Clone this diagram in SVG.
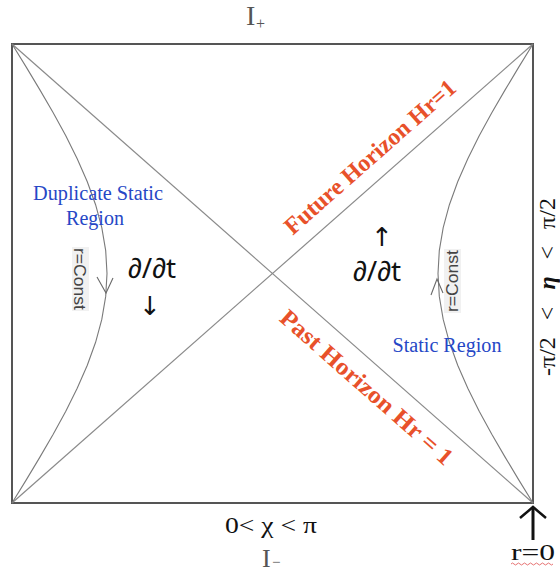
<svg xmlns="http://www.w3.org/2000/svg" width="560" height="580" viewBox="0 0 560 580">
<style>
.frame{fill:none;stroke:#555;stroke-width:2}
.diag{fill:none;stroke:#8a8a8a;stroke-width:1.2}
.curve{fill:none;stroke:#7a7a7a;stroke-width:1.1}
.chev{fill:none;stroke:#6a6a6a;stroke-width:1.1}
.blue{font-family:"Liberation Serif",serif;font-size:20px;fill:#2647c6}
.hor{font-family:"Liberation Serif",serif;font-size:24px;font-weight:bold;fill:#e8512a}
.rc{font-family:"Liberation Sans",sans-serif;font-size:17px;fill:#444}
.dt{font-family:"Noto Sans",sans-serif;font-size:28px;fill:#111}
.arr{font-family:"DejaVu Sans",sans-serif;font-size:26px;fill:#111}
.math{font-family:"Liberation Serif",serif;font-size:24px;fill:#111}
.big{font-family:"Liberation Serif",serif;fill:#555}
</style>
<rect width="560" height="580" fill="#fff"/>
<g id="connectors">
<rect class="frame" x="12" y="44" width="521" height="459"/>
<line class="diag" x1="12" y1="44" x2="533" y2="503"/>
<line class="diag" x1="12" y1="503" x2="533" y2="44"/>
<polyline class="curve" points="12,44 26.1,66.9 39.9,89.9 53.2,112.8 65.8,135.8 77.2,158.7 87.3,181.7 95.6,204.7 101.8,227.6 105.7,250.6 107,273.5 105.7,296.4 101.8,319.4 95.6,342.3 87.3,365.3 77.2,388.3 65.8,411.2 53.2,434.2 39.9,457.1 26.1,480.1 12,503"/>
<polyline class="curve" points="533,44 518.9,66.9 505.1,89.9 491.8,112.8 479.2,135.8 467.8,158.7 457.7,181.7 449.4,204.7 443.2,227.6 439.3,250.6 438,273.5 439.3,296.4 443.2,319.4 449.4,342.3 457.7,365.3 467.8,388.3 479.2,411.2 491.8,434.2 505.1,457.1 518.9,480.1 533,503"/>
<polyline class="chev" points="97,277 106,293 113,278"/>
<polyline class="chev" points="431,295 437,279 443,293"/>
<line x1="533" y1="540" x2="533" y2="508" stroke="#111" stroke-width="3"/>
<polyline points="520,518 533,507 546,518" fill="none" stroke="#111" stroke-width="2.5"/>
</g>
<g id="label-top">
<text class="big" x="246" y="25" font-size="28">I</text>
<text class="big" x="256" y="29" font-size="16">+</text>
</g>
<g id="label-bottom">
<text class="big" x="262" y="567" font-size="26" fill="#666">I</text>
<text class="big" x="272" y="567" font-size="15" fill="#666">−</text>
</g>
<g id="duplicate-static-region">
<text class="blue" x="98" y="200" text-anchor="middle" textLength="130" lengthAdjust="spacingAndGlyphs">Duplicate Static</text>
<text class="blue" x="95" y="225" text-anchor="middle">Region</text>
</g>
<g id="static-region">
<text class="blue" x="447" y="352" text-anchor="middle" textLength="109" lengthAdjust="spacingAndGlyphs">Static Region</text>
</g>
<g id="future-horizon">
<text class="hor" transform="translate(385.2,174.2) rotate(-41.38)" x="0" y="-15" text-anchor="middle" textLength="220" lengthAdjust="spacingAndGlyphs">Future Horizon Hr=1</text>
</g>
<g id="past-horizon">
<text class="hor" transform="translate(382,370) rotate(41.38)" x="0" y="31" text-anchor="middle" textLength="222" lengthAdjust="spacingAndGlyphs">Past Horizon Hr = 1</text>
</g>
<g id="rconst-left">
<rect x="72" y="247" width="17" height="64" fill="#f1f1f1"/>
<text class="rc" transform="translate(80,279) rotate(90)" x="0" y="6" text-anchor="middle" textLength="62" lengthAdjust="spacingAndGlyphs">r=Const</text>
</g>
<g id="rconst-right">
<rect x="444" y="249" width="17" height="64" fill="#f1f1f1"/>
<text class="rc" transform="translate(452,281) rotate(-90)" x="0" y="6" text-anchor="middle" textLength="62" lengthAdjust="spacingAndGlyphs">r=Const</text>
</g>
<g id="dt-left">
<text class="dt" x="152" y="278" text-anchor="middle">∂/∂t</text>
<text class="arr" x="150" y="315" text-anchor="middle">↓</text>
</g>
<g id="dt-right">
<text class="dt" x="377" y="281" text-anchor="middle">∂/∂t</text>
<text class="arr" x="382" y="246" text-anchor="middle">↑</text>
</g>
<g id="chi-range">
<text class="math" x="225" y="533" textLength="92" lengthAdjust="spacingAndGlyphs">0&lt; χ &lt; π</text>
</g>
<g id="eta-range">
<text class="math" font-size="28" transform="translate(555,287) rotate(-90)" x="0" y="0" text-anchor="middle">-π/2<tspan dx="17">&lt;</tspan><tspan dx="17" font-style="italic" font-weight="bold">η</tspan><tspan dx="17">&lt;</tspan><tspan dx="17">π/2</tspan></text>
</g>
<g id="r-zero">
<text class="math" x="511" y="560" font-size="25" textLength="44" lengthAdjust="spacingAndGlyphs">r=0</text>
<path d="M511,564 q1.5,-2 3,0 t3,0 t3,0 t3,0 t3,0 t3,0 t3,0 t3,0 t3,0 t3,0 t3,0 t3,0 t3,0 t3,0" fill="none" stroke="#e05050" stroke-width="0.8"/>
</g>
</svg>
